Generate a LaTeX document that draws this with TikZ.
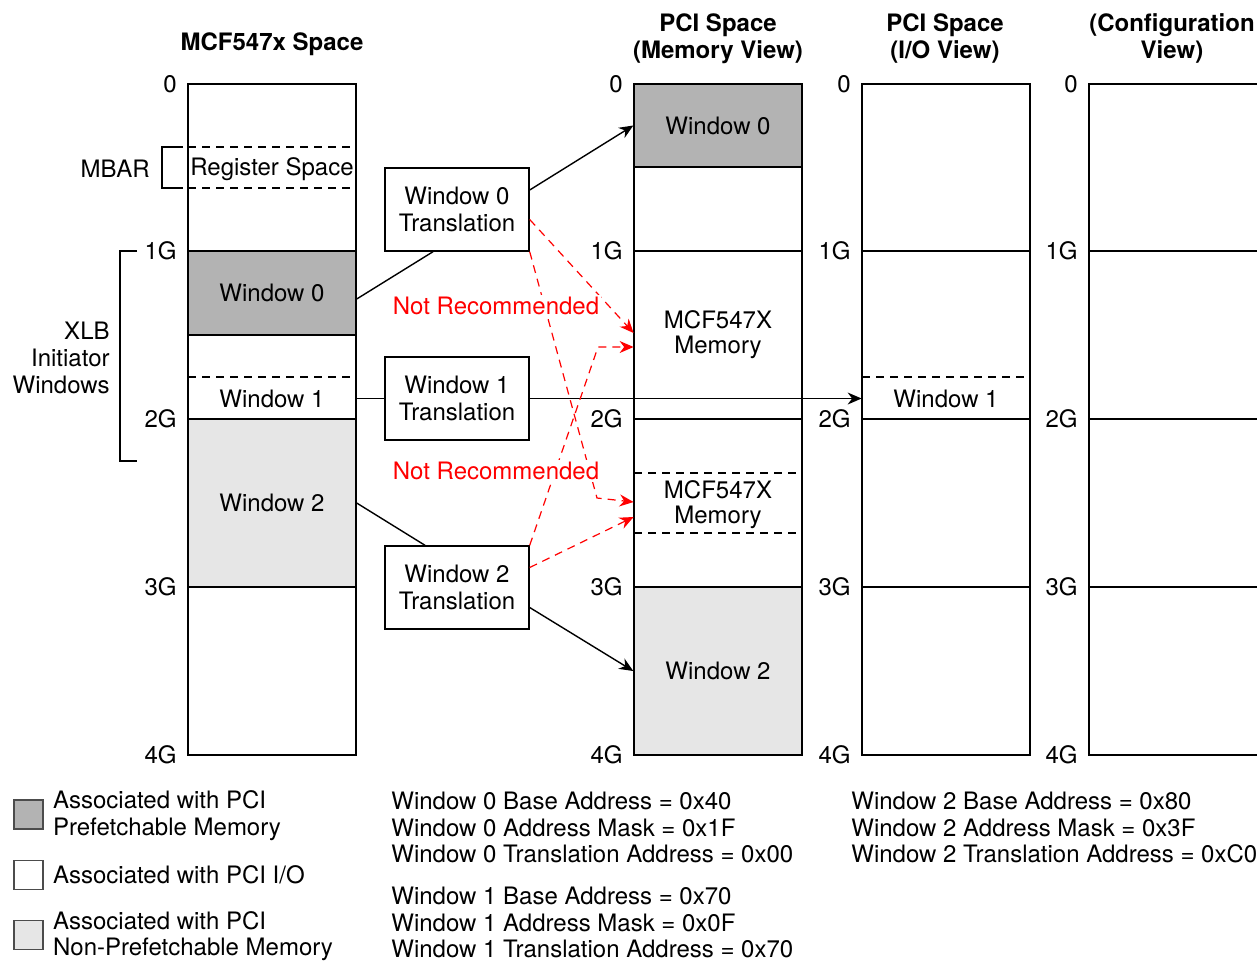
\documentclass[tikz,border=0pt]{standalone}
\usepackage{fontspec}
\setsansfont{TeX Gyre Heros}
\usetikzlibrary{arrows.meta,positioning}
\definecolor{mapInk}{HTML}{000000}
\definecolor{mapDark}{HTML}{B3B3B3}
\definecolor{mapLight}{HTML}{E6E6E6}
\definecolor{mapRed}{HTML}{FF0000}
\tikzset{
  every picture/.style={font=\sffamily\fontsize{12}{13.5}\selectfont, text=mapInk},
  map line/.style={draw=mapInk, line width=0.7pt},
  map dash/.style={draw=mapInk, line width=0.7pt, dash pattern=on 4pt off 3pt},
  map cell/.style={draw=mapInk, line width=0.7pt, minimum width=84pt,
    inner sep=0pt, align=center},
  map text/.style={minimum width=84pt, inner sep=0pt, align=center},
  map mem/.style={map text, font=\sffamily\fontsize{12}{12.5}\selectfont},
  map head/.style={font=\sffamily\bfseries\fontsize{12}{13.5}\selectfont, align=center, inner sep=0pt},
  map tick/.style={anchor=east, inner sep=0pt},
  map box/.style={draw=mapInk, line width=0.7pt, fill=white, align=center,
    minimum width=72pt, minimum height=41.5pt, inner sep=0pt},
  map link/.style={draw=mapInk, line width=0.7pt},
  map arrow/.style={-{Stealth[length=7pt,width=6pt]}, draw=mapInk, line width=0.7pt},
  map bad/.style={-{Stealth[length=7pt,width=6pt]}, draw=mapRed, line width=0.6pt,
    dash pattern=on 4pt off 3pt},
  map warn/.style={text=mapRed, fill=white, inner sep=1pt},
  map key/.style={draw=mapInk!70, line width=0.7pt, minimum size=14.5pt, inner sep=0pt},
  map note/.style={anchor=west, align=left, inner sep=0pt,
    font=\sffamily\fontsize{12}{13.25}\selectfont}
}
\begin{document}
\begin{tikzpicture}[x=0.5pt,y=-0.5pt]
  \useasboundingbox (0,0) rectangle (1257,960);

  % headings
  \node[map head] (hA) at (272,44) {MCF547x Space};
  \node[map head] (hB) at (718,38.5) {PCI Space\\(Memory View)};
  \node[map head] (hC) at (945,38.5) {PCI Space\\(I/O View)};
  \node[map head] (hD) at (1172,38.5) {(Configuration\\View)};

  % MCF547x space
  \node[map cell, fill=mapDark, minimum height=42pt] (aW0) at (272,293) {Window 0};
  \node[map cell, fill=mapLight, minimum height=84pt] (aW2) at (272,503) {Window 2};
  \node[map text] (aReg) at (272,169) {Register Space};
  \node[map text, minimum height=21pt] (aW1) at (272,398.5) {Window 1};
  \draw[map line] (188,84) rectangle (356,755);
  \draw[map dash] (188,147) -- (356,147) (188,188) -- (356,188);
  \draw[map dash] (188,377) -- (356,377);

  % MBAR and XLB brackets
  \node[anchor=east, inner sep=0pt] (mbar) at (150,169) {MBAR};
  \draw[map line] (183,147) -- (162,147) -- (162,188) -- (183,188);
  \node[anchor=east, align=right, inner sep=0pt] (xlb) at (110,358) {XLB\\Initiator\\Windows};
  \draw[map line] (137,251) -- (120,251) -- (120,461) -- (137,461);

  % PCI memory view
  \node[map cell, fill=mapDark, minimum height=41.5pt] (bW0) at (718,125.5) {Window 0};
  \node[map cell, fill=mapLight, minimum height=84pt] (bW2) at (718,671) {Window 2};
  \node[map mem] (bMem1) at (718,335) {MCF547X\\Memory};
  \node[map mem, minimum height=30pt] (bMem2) at (718,505) {MCF547X\\Memory};
  \draw[map line] (634,84) rectangle (802,755);
  \draw[map line] (634,251) -- (802,251) (634,419) -- (802,419);
  \draw[map dash] (634,473) -- (802,473) (634,533) -- (802,533);

  % PCI I/O view
  \node[map text, minimum height=21pt] (cW1) at (946,398.5) {Window 1};
  \draw[map line] (862,84) rectangle (1030,755);
  \draw[map line] (862,251) -- (1030,251) (862,419) -- (1030,419) (862,587) -- (1030,587);
  \draw[map dash] (862,377) -- (1030,377);

  % configuration view
  \draw[map line] (1257,84) -- (1089,84) -- (1089,755) -- (1257,755);
  \draw[map line] (1089,251) -- (1257,251) (1089,419) -- (1257,419) (1089,587) -- (1257,587);

  % address scale
  \foreach \cx in {188,634,862,1089}
    \foreach \yy/\lab in {84/0,251/1G,419/2G,587/3G,755/4G}
      \node[map tick] (s-\cx-\lab) at (\cx-11,\yy) {\lab};

  % translation boxes
  \node[map box] (t0) at (457,209.5) {Window 0\\Translation};
  \node[map box] (t1) at (457,398.5) {Window 1\\Translation};
  \node[map box] (t2) at (457,587.5) {Window 2\\Translation};

  \draw[map link] ([yshift=-3pt]aW0.east) -- ([xshift=-12pt]t0.south);
  \draw[map arrow] ([yshift=9.75pt]t0.east) -- (bW0.west);
  \draw[map link] (aW1.east) -- (t1.west);
  \draw[map arrow] (t1.east) -- (cW1.west);
  \draw[map link] (aW2.east) -- ([xshift=-16pt]t2.north);
  \draw[map arrow] ([yshift=-10pt]t2.east) -- (bW2.west);

  % not recommended paths
  \coordinate (k0) at (597,498);
  \coordinate (k2) at (598,347);
  \draw[map bad] ([yshift=-5pt]t0.east) -- ([yshift=1pt]bMem1.west);
  \draw[map bad] (t0.south east) -- (k0) -- ([yshift=1.5pt]bMem2.west);
  \draw[map bad] (t2.north east) -- (k2) -- ([yshift=-6pt]bMem1.west);
  \draw[map bad] ([yshift=10pt]t2.east) -- ([yshift=-6pt]bMem2.west);
  \node[map warn] (nr0) at (496,306) {Not Recommended};
  \node[map warn] (nr1) at (496,471) {Not Recommended};

  % legend
  \node[map key, fill=mapDark] (key0) at (28.5,814.5) {};
  \node[map key, fill=white] (key1) at (28.5,875) {};
  \node[map key, fill=mapLight] (key2) at (28.5,935) {};
  \node[map note, right=4.5pt of key0, yshift=-0.5pt] (lg0) {Associated with PCI\\Prefetchable Memory};
  \node[map note, right=4.5pt of key1] (lg1) {Associated with PCI I/O};
  \node[map note, right=4.5pt of key2, yshift=-0.5pt] (lg2) {Associated with PCI\\Non-Prefetchable Memory};

  % register values
  \node[map note] (reg0) at (391,827.5) {Window 0 Base Address = 0x40\\Window 0 Address Mask = 0x1F\\Window 0 Translation Address = 0x00};
  \node[map note] (reg1) at (391,922.5) {Window 1 Base Address = 0x70\\Window 1 Address Mask = 0x0F\\Window 1 Translation Address = 0x70};
  \node[map note] (reg2) at (851,827.5) {Window 2 Base Address = 0x80\\Window 2 Address Mask = 0x3F\\Window 2 Translation Address = 0xC0};
\end{tikzpicture}
\end{document}
